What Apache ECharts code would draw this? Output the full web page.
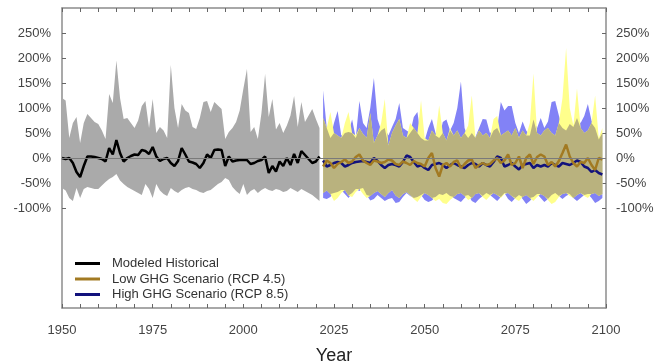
<!DOCTYPE html>
<html>
<head>
<meta charset="utf-8">
<script src="https://cdn.jsdelivr.net/npm/echarts@6/dist/echarts.min.js"></script>
<style>
  html, body {margin: 0; padding: 0; background: #fff;}
  #chart {width: 669px; height: 364px;}
</style>
</head>
<body>
<div id="chart"></div>
<script>
// historical period, one value per year from 1950
const histStart = 1950
const histHigh = [120, 115, 40, 70, 82, 30, 70, 88, 80, 72, 68, 55, 38, 128, 110, 195, 120, 78, 80, 70,
  60, 75, 104, 114, 60, 118, 50, 62, 55, 40, 186, 100, 60, 108, 95, 90, 62, 58, 80, 112,
  114, 92, 112, 105, 98, 38, 52, 60, 72, 95, 138, 178, 52, 62, 38, 90, 168, 82, 118, 57,
  70, 50, 65, 85, 124, 62, 112, 72, 85, 98, 78, 60]
const histLow = [-60, -65, -80, -86, -60, -80, -62, -58, -60, -62, -62, -55, -48, -42, -38, -32, -45, -52, -58, -62,
  -66, -70, -74, -52, -62, -80, -52, -65, -72, -76, -60, -66, -70, -64, -60, -58, -62, -64, -68, -70,
  -66, -64, -58, -52, -48, -40, -44, -58, -66, -72, -52, -74, -66, -62, -70, -64, -60, -64, -66, -62,
  -64, -68, -66, -60, -64, -68, -62, -66, -70, -74, -80, -86]
const histLine = [0, -2, 0, -10, -28, -38, -16, 3, 3, 2, 0, -2, -7, 20, 7, 36, 10, -7, 0, 4,
  7, 6, 16, 14, 8, 22, 3, -6, -2, 0, -10, -16, -6, 20, 7, -7, -9, -12, -20, -10,
  7, 0, 16, 17, 16, -16, 3, -7, -5, -4, -4, -4, -12, -10, -6, -4, 3, -30, -16, -27,
  -7, -16, 0, -14, 8, -10, 14, 6, -2, -10, -7, 3]

// projections, one value per year from 2022
const projStart = 2022
const rcp45High = [80, 60, 92, 50, 45, 40, 70, 92, 50, 45, 60, 48, 40, 90, 30, 45, 70, 118, 25, 50,
  65, 78, 45, 40, 70, 60, 50, 115, 40, 35, 55, 45, 105, 50, 35, 60, 45, 55, 40, 50,
  65, 125, 40, 55, 45, 50, 40, 78, 84, 45, 50, 55, 45, 60, 40, 55, 45, 70, 169, 50,
  45, 55, 60, 50, 45, 70, 120, 220, 100, 65, 139, 60, 50, 55, 70, 125, 40, 60]
const rcp45Low = [-70, -65, -72, -86, -80, -70, -64, -75, -78, -68, -62, -72, -80, -76, -70, -66, -72, -78, -70, -64,
  -75, -80, -72, -68, -74, -82, -88, -78, -70, -74, -80, -86, -82, -90, -92, -84, -78, -72, -70, -76,
  -84, -80, -72, -70, -78, -84, -76, -70, -74, -80, -72, -70, -76, -82, -86, -78, -74, -80, -86, -78,
  -72, -76, -84, -92, -88, -78, -72, -70, -76, -80, -74, -70, -76, -80, -72, -70, -76, -72]
const rcp85High = [135, 60, 40, 70, 94, 45, 50, 52, 77, 40, 114, 70, 60, 100, 160, 78, 55, 60, 45, 62,
  78, 110, 60, 55, 50, 82, 92, 40, 35, 60, 78, 50, 40, 72, 77, 55, 70, 100, 153, 60,
  40, 50, 42, 60, 78, 77, 50, 55, 60, 112, 95, 104, 104, 70, 50, 73, 55, 45, 77, 60,
  80, 60, 73, 112, 114, 85, 60, 55, 68, 62, 80, 70, 84, 108, 75, 60, 37, 50]
const rcp85Low = [-80, -82, -78, -70, -68, -64, -72, -80, -70, -62, -66, -60, -74, -85, -82, -74, -80, -86, -82, -80,
  -90, -88, -78, -70, -76, -80, -78, -74, -84, -88, -85, -78, -72, -74, -70, -76, -80, -84, -88, -80,
  -74, -86, -90, -82, -76, -70, -74, -80, -86, -78, -70, -82, -88, -80, -74, -82, -92, -86, -78, -72,
  -80, -88, -82, -74, -70, -76, -82, -76, -72, -80, -86, -80, -74, -72, -80, -90, -86, -80]
const rcp45Line = [-17, -5, -10, -20, -12, -8, -3, -10, -7, 2, 7, -5, -10, -14, -5, -7, -10, -8, -3, -5,
  -12, -14, -7, -10, -14, -6, -10, -12, -17, 0, 10, -20, -37, -14, -10, -17, -8, -5, -20, -12,
  -5, -3, -20, -14, -10, -14, -12, -5, 0, -10, -5, 7, -14, -10, 3, -20, 0, 7, -12, 2,
  7, 3, -14, -8, -17, -6, 10, 27, 3, -10, -17, -8, -10, 0, -14, -24, 0, -3]
const rcp85Line = [-5, -17, -14, -10, -8, -10, -17, -14, -10, -8, -7, -6, -8, -10, 0, -6, -14, -20, -14, -12,
  -14, -17, -8, 5, 2, -8, -17, -14, -20, -24, -14, -12, -10, -14, -20, -14, -10, -14, -17, -20,
  -14, -10, -12, -17, -10, -14, -17, -8, 3, 0, -17, -14, -10, -17, -23, -14, -12, -10, -20, -14,
  -17, -14, -17, -10, -14, -17, -10, -12, -14, -10, -5, -8, -17, -20, -28, -24, -30, -33]

const xTicks = [1950, 1975, 2000, 2025, 2050, 2075, 2100]
const yTicks = [-100, -50, 0, 50, 100, 150, 200, 250]

const histYears = histLine.map((_, i) => histStart + i)
const projYears = rcp45Line.map((_, i) => projStart + i)
const pairs = (years, vals) => years.map((y, i) => [y, vals[i]])

// overlap of the two projection ranges (olive where yellow and blue meet)
const overlapLow = rcp45Low.map((v, i) => Math.max(v, rcp85Low[i]))
const overlapHigh = rcp45High.map((v, i) => Math.max(overlapLow[i], Math.min(v, rcp85High[i])))

// one filled polygon per range, placed through the axes
const band = (years, lo, hi, color, extra) => Object.assign({
  type: 'custom',
  silent: true,
  data: years.map((y, i) => [y, lo[i], hi[i]]),
  encode: {x: 0, y: [1, 2]},
  renderItem: (params, api) => {
    if (params.dataIndex !== 0) return null
    const top = years.map((y, i) => api.coord([y, hi[i]]))
    const bottom = years.map((y, i) => api.coord([y, lo[i]])).reverse()
    return {type: 'polygon', shape: {points: top.concat(bottom)}, style: {fill: color}}
  }
}, extra || {})

const font = 'Liberation Sans, Arial, sans-serif'
const axisColor = '#8c8c8c'
const labelStyle = {color: '#444', fontSize: 13, fontFamily: font}

const chart = echarts.init(document.getElementById('chart'))
chart.setOption({
  animation: false,
  grid: {left: 62, right: 63, top: 8, bottom: 56, outerBoundsMode: 'none'},
  legend: {
    data: ['Modeled Historical', 'Low GHG Scenario (RCP 4.5)', 'High GHG Scenario (RCP 8.5)'],
    orient: 'vertical',
    left: 70,
    top: 252,
    icon: 'rect',
    itemWidth: 25,
    itemHeight: 3,
    itemGap: 2.5,
    textStyle: {color: '#333', fontSize: 13, lineHeight: 13, fontFamily: font, padding: [0, 0, 0, 7]}
  },
  xAxis: [
    {
      type: 'value', min: 1950, max: 2100, interval: 5,
      name: 'Year', nameLocation: 'middle', nameGap: 39,
      nameTextStyle: {color: '#222', fontSize: 18, fontFamily: font},
      axisLine: {onZero: false, lineStyle: {color: axisColor, width: 1.5}},
      axisTick: {inside: true, length: 4, lineStyle: {color: '#666'}},
      axisLabel: {...labelStyle, margin: 16, customValues: xTicks, formatter: v => String(v)},
      splitLine: {show: false}
    },
    {
      type: 'value', position: 'top', min: 1950, max: 2100, interval: 5,
      axisLine: {onZero: false, lineStyle: {color: axisColor, width: 1.5}},
      axisTick: {inside: true, length: 4, lineStyle: {color: '#666'}},
      axisLabel: {show: false},
      splitLine: {show: false}
    }
  ],
  yAxis: [
    {
      type: 'value', min: -300, max: 300, interval: 50,
      axisLine: {show: true, onZero: false, lineStyle: {color: axisColor, width: 1.5}},
      axisTick: {show: true, inside: true, length: 4, customValues: yTicks, lineStyle: {color: '#666'}},
      axisLabel: {...labelStyle, margin: 11, customValues: yTicks, formatter: v => v + '%'},
      splitLine: {show: false}
    },
    {
      type: 'value', position: 'right', min: -300, max: 300, interval: 50,
      axisLine: {show: true, onZero: false, lineStyle: {color: axisColor, width: 1.5}},
      axisTick: {show: true, inside: true, length: 4, customValues: yTicks, lineStyle: {color: '#666'}},
      axisLabel: {...labelStyle, margin: 10, customValues: yTicks, formatter: v => v + '%'},
      splitLine: {show: false}
    }
  ],
  series: [
    band(histYears, histLow, histHigh, '#aaaaaa'),
    band(projYears, rcp85Low, rcp85High, '#8282f6'),
    band(projYears, rcp45Low, rcp45High, '#ffff8c'),
    band(projYears, overlapLow, overlapHigh, '#b9b27e', {
      markLine: {
        silent: true, symbol: 'none', label: {show: false},
        lineStyle: {color: '#7a7a7a', width: 1, type: 'solid'},
        data: [{yAxis: 0}]
      }
    }),
    {
      type: 'line', name: 'Modeled Historical', data: pairs(histYears, histLine),
      symbol: 'none', color: '#000', lineStyle: {color: '#000', width: 2.5}
    },
    {
      type: 'line', name: 'High GHG Scenario (RCP 8.5)', data: pairs(projYears, rcp85Line),
      symbol: 'none', color: '#12127c', lineStyle: {color: '#12127c', width: 2.5}
    },
    {
      type: 'line', name: 'Low GHG Scenario (RCP 4.5)', data: pairs(projYears, rcp45Line),
      symbol: 'none', color: '#a27a22', lineStyle: {color: '#a27a22', width: 2.5}
    }
  ]
})
</script>
</body>
</html>
